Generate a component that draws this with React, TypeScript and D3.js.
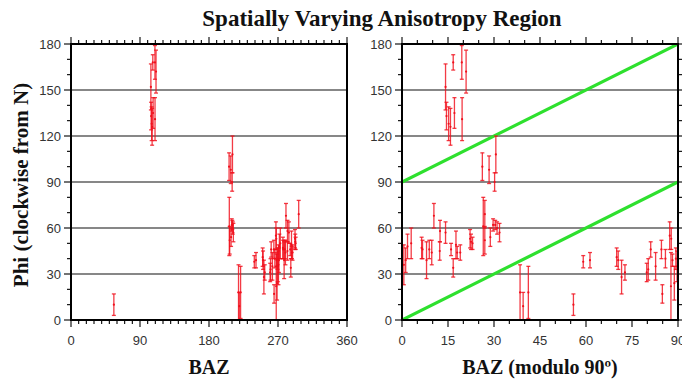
import React from "react";
import * as d3 from "d3";

// Fast-axis azimuth (phi) measurements against back azimuth, with half-width errors
const BAZ = [
  270.6, 271.2, 271.8, 273.0, 276.4, 276.7, 278.0, 278.9, 279.7, 280.4,
  282.4, 282.3, 284.2, 286.0, 286.7, 287.6, 288.0, 289.0, 292.2, 292.5,
  293.0, 206.5, 297.0, 207.0, 208.8, 209.7, 210.4, 211.0, 211.8, 218.5,
  219.5, 221.2, 55.9, 239.1, 241.3, 250.0, 250.5, 251.6, 252.7, 259.8,
  260.3, 261.1, 262.7, 264.6, 264.9, 265.9, 267.3, 267.8, 267.7, 268.2,
  268.8, 269.3, 269.7, 104.2, 106.7, 109.5, 110.9, 104.5, 105.2, 105.8,
  107.1, 109.6, 206.2, 208.4, 210.6, 210.2,
];
const PHI = [
  36, 39, 48, 50, 47, 46, 39, 46, 44, 68,
  58, 45, 57, 46, 34, 49, 44, 44, 53, 51,
  50, 61, 69, 52, 54, 62, 62, 60, 57, 18,
  9, 18, 10, 38, 39, 41, 39, 28, 31, 31,
  33, 46, 35, 46, 17, 40, 55, 53, 22, 39,
  24, 40, 35, 152, 168, 168, 162, 133, 128, 126,
  135, 131, 100, 98, 108, 90,
];
const ERR = [
  13, 8, 8, 10, 7, 6, 12, 6, 8, 8,
  7, 6, 7, 4, 6, 9, 4, 5, 6, 5,
  4, 19, 9, 9, 6, 4, 3, 4, 6, 18,
  9, 17, 7, 4, 5, 6, 6, 11, 5, 6,
  7, 5, 9, 6, 6, 6, 9, 7, 22, 4,
  11, 7, 10, 15, 5, 11, 14, 9, 11, 12,
  10, 14, 9, 9, 12, 6,
];

const Y_TICKS = [0, 30, 60, 90, 120, 150, 180];
const X_TICKS_LEFT = [0, 90, 180, 270, 360];
const X_TICKS_RIGHT = [0, 15, 30, 45, 60, 75, 90];

// Reference lines in the modulo-90 panel: phi = baz and phi = baz + 90
const GUIDES = [
  { from: [0, 0], to: [90, 90] },
  { from: [0, 90], to: [90, 180] },
];

const TOP = 44;
const BOTTOM = 320;
const RED = "#f0101c";
const GREEN = "#2ee02e";
const TICK_FONT = "'Liberation Sans', Arial, sans-serif";
const TITLE_FONT = "'Liberation Serif', 'Times New Roman', serif";

type PanelProps = {
  id: string;
  x0: number;
  x1: number;
  xMax: number;
  xTicks: number[];
  xMinor: number;
  xs: number[];
  rightTicks: boolean;
  guides: boolean;
};

function Panel({ id, x0, x1, xMax, xTicks, xMinor, xs, rightTicks, guides }: PanelProps) {
  const x = d3.scaleLinear().domain([0, xMax]).range([x0, x1]);
  const y = d3.scaleLinear().domain([0, 180]).range([BOTTOM, TOP]);
  const xMinorTicks = d3.range(0, xMax + 0.001, xMinor);
  const yMinorTicks = d3.range(0, 181, 10);
  const isMajorX = (v: number) => xTicks.some((t) => Math.abs(t - v) < 1e-6);
  const isMajorY = (v: number) => v % 30 === 0;

  return (
    <g>
      <defs>
        <clipPath id={`clip-${id}`}>
          <rect x={x0} y={TOP} width={x1 - x0} height={BOTTOM - TOP} />
        </clipPath>
      </defs>
      {/* horizontal grid */}
      {Y_TICKS.filter((t) => t > 0 && t < 180).map((t) => (
        <line key={`g${t}`} x1={x0} x2={x1} y1={y(t)} y2={y(t)} stroke="#111" strokeWidth={1.2} />
      ))}
      <g clipPath={`url(#clip-${id})`}>
        {guides &&
          GUIDES.map((g, i) => (
            <line
              key={`gl${i}`}
              x1={x(g.from[0])}
              y1={y(g.from[1])}
              x2={x(g.to[0])}
              y2={y(g.to[1])}
              stroke={GREEN}
              strokeWidth={3.2}
            />
          ))}
        {xs.map((bx, i) => {
          const cx = x(bx);
          const lo = y(Math.max(0, PHI[i] - ERR[i]));
          const hi = y(Math.min(180, PHI[i] + ERR[i]));
          return (
            <g key={`e${i}`} stroke={RED} strokeOpacity={0.82} strokeWidth={1.3} fill="none">
              <line x1={cx} x2={cx} y1={lo} y2={hi} />
              <line x1={cx - 2} x2={cx + 2} y1={lo} y2={lo} />
              <line x1={cx - 2} x2={cx + 2} y1={hi} y2={hi} />
              <circle cx={cx} cy={y(PHI[i])} r={1.1} fill={RED} stroke="none" />
            </g>
          );
        })}
      </g>
      {/* frame */}
      <rect x={x0} y={TOP} width={x1 - x0} height={BOTTOM - TOP} fill="none" stroke="#000" strokeWidth={2} />
      {/* x ticks top and bottom */}
      {xMinorTicks.map((v) => {
        const len = isMajorX(v) ? 7 : 4;
        return (
          <g key={`xt${v}`} stroke="#000" strokeWidth={1.1}>
            <line x1={x(v)} x2={x(v)} y1={TOP} y2={TOP - len} />
            <line x1={x(v)} x2={x(v)} y1={BOTTOM} y2={BOTTOM + len} />
          </g>
        );
      })}
      {/* y ticks */}
      {yMinorTicks.map((v) => {
        const len = isMajorY(v) ? 7 : 4;
        return (
          <g key={`yt${v}`} stroke="#000" strokeWidth={1.1}>
            <line x1={x0} x2={x0 - len} y1={y(v)} y2={y(v)} />
            {rightTicks && <line x1={x1} x2={x1 + len} y1={y(v)} y2={y(v)} />}
          </g>
        );
      })}
      {/* tick labels */}
      {xTicks.map((t) => (
        <text
          key={`xl${t}`}
          x={x(t)}
          y={BOTTOM + 25}
          textAnchor="middle"
          fontFamily={TICK_FONT}
          fontSize={13}
          fill="#333"
        >
          {t}
        </text>
      ))}
      {Y_TICKS.map((t) => (
        <text
          key={`yl${t}`}
          x={x0 - 10}
          y={y(t) + 4.5}
          textAnchor="end"
          fontFamily={TICK_FONT}
          fontSize={13}
          fill="#333"
        >
          {t}
        </text>
      ))}
    </g>
  );
}

export default function App() {
  const mod90 = BAZ.map((b) => b % 90);
  return (
    <svg width={682} height={381} style={{ position: "absolute", left: 0, top: 0, background: "#fff" }}>
      <rect width={682} height={381} fill="#fff" />
      <text
        x={382}
        y={26}
        textAnchor="middle"
        fontFamily={TITLE_FONT}
        fontWeight="bold"
        fontSize={23}
        fill="#111"
      >
        Spatially Varying Anisotropy Region
      </text>
      <Panel
        id="full"
        x0={71}
        x1={347}
        xMax={360}
        xTicks={X_TICKS_LEFT}
        xMinor={10}
        xs={BAZ}
        rightTicks={false}
        guides={false}
      />
      <Panel
        id="mod"
        x0={402}
        x1={678}
        xMax={90}
        xTicks={X_TICKS_RIGHT}
        xMinor={5}
        xs={mod90}
        rightTicks={true}
        guides={true}
      />
      <text
        transform={`translate(28,${(TOP + BOTTOM) / 2 + 3}) rotate(-90)`}
        textAnchor="middle"
        fontFamily={TITLE_FONT}
        fontWeight="bold"
        fontSize={21}
        fill="#111"
      >
        Phi (clockwise from N)
      </text>
      <text x={209} y={374} textAnchor="middle" fontFamily={TITLE_FONT} fontWeight="bold" fontSize={20} fill="#111">
        BAZ
      </text>
      <text x={540} y={374} textAnchor="middle" fontFamily={TITLE_FONT} fontWeight="bold" fontSize={20} fill="#111">
        BAZ (modulo 90º)
      </text>
    </svg>
  );
}
